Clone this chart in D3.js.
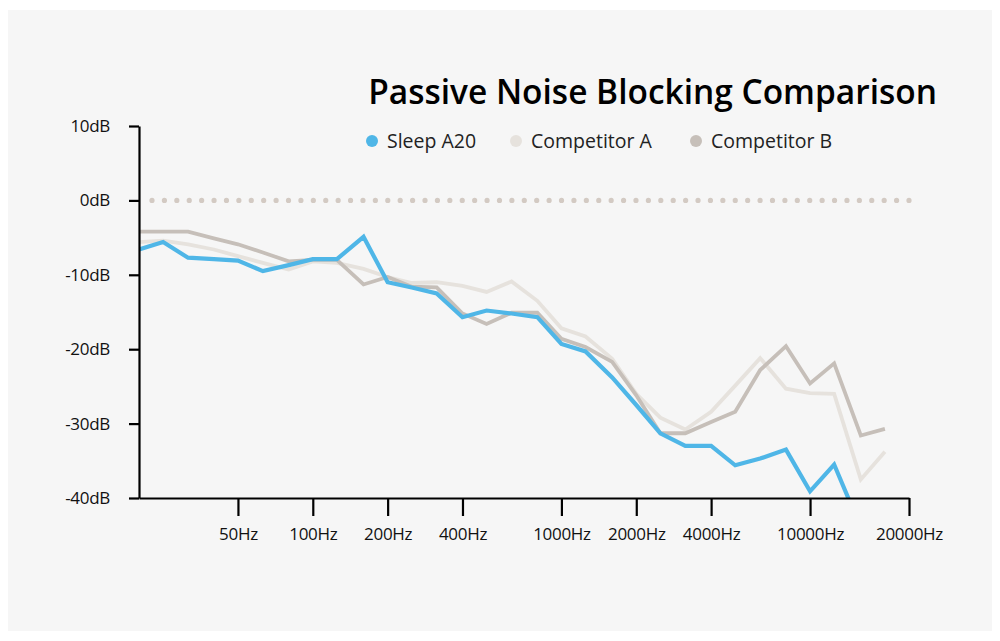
<!DOCTYPE html>
<html>
<head>
<meta charset="utf-8">
<script src="https://cdn.jsdelivr.net/npm/d3@7"></script>
<style>
  html, body { margin: 0; padding: 0; background: #ffffff; }
  svg { display: block; font-family: "Open Sans", Lato, sans-serif; }
</style>
</head>
<body>
<svg id="chart" width="1000" height="641"></svg>
<script>
// ---- Data ----
const frequencies = [20, 25, 31.5, 40, 50, 63, 80, 100, 125, 160, 200, 250, 315, 400, 500, 630, 800,
  1000, 1250, 1600, 2000, 2500, 3150, 4000, 5000, 6300, 8000, 10000, 12500, 16000, 20000];

const sleepA20 = [-6.6, -5.6, -7.7, -7.9, -8.1, -9.5, -8.7, -7.9, -7.9, -4.9, -11.0, -11.7, -12.5, -15.7,
  -14.8, -15.2, -15.7, -19.3, -20.3, -23.8, -27.5, -31.3, -33.0, -33.0, -35.6, -34.7, -33.5, -39.1, -35.5, -44.0, null];

const competitorA = [-5.6, -5.4, -5.9, -6.6, -7.5, -8.4, -9.3, -8.2, -8.4, -9.2, -10.3, -11.1, -11.0, -11.5,
  -12.3, -10.9, -13.5, -17.2, -18.3, -21.3, -26.0, -29.2, -30.8, -28.4, -24.9, -21.2, -25.3, -25.9, -26.0, -37.5, -33.8];

const competitorB = [-4.2, -4.2, -4.2, -5.1, -5.9, -7.0, -8.2, -8.0, -8.0, -11.3, -10.3, -11.6, -11.7, -15.2,
  -16.6, -15.1, -15.1, -18.6, -19.7, -21.7, -26.2, -31.3, -31.3, -29.8, -28.4, -22.8, -19.6, -24.6, -21.9, -31.6, -30.7];

const seriesNames = ["Sleep A20", "Competitor A", "Competitor B"];
const seriesColors = ["#4fb6e7", "#e6e2dd", "#c6bfb9"];

const xTickValues = [50, 100, 200, 400, 1000, 2000, 4000, 10000, 25000];
const xTickLabels = ["50Hz", "100Hz", "200Hz", "400Hz", "1000Hz", "2000Hz", "4000Hz", "10000Hz", "20000Hz"];
const yTickValues = [10, 0, -10, -20, -30, -40];
const yTickLabels = ["10dB", "0dB", "-10dB", "-20dB", "-30dB", "-40dB"];

const title = "Passive Noise Blocking Comparison";

// ---- Layout ----
const svg = d3.select("#chart");
const plot = { left: 139, right: 909, top: 126, bottom: 498 };

svg.append("rect").attr("x", 8).attr("y", 10).attr("width", 984).attr("height", 621).attr("fill", "#f6f6f6");

const x = d3.scaleLog().domain([20, 25000]).range([plot.left, plot.right]);
const y = d3.scaleLinear().domain([-40, 10]).range([plot.bottom, plot.top]);

// clip
svg.append("defs").append("clipPath").attr("id", "plotclip")
  .append("rect").attr("x", plot.left).attr("y", plot.top)
  .attr("width", plot.right - plot.left).attr("height", plot.bottom - plot.top);

// 0dB dotted line
const dotStart = plot.left + 13;
const dotGap = (plot.right - dotStart) / 61;
svg.append("line")
  .attr("x1", dotStart).attr("x2", plot.right + 1)
  .attr("y1", y(0)).attr("y2", y(0))
  .attr("stroke", "#d3cac3").attr("stroke-width", 5.2)
  .attr("stroke-linecap", "round").attr("stroke-dasharray", `0 ${dotGap}`);

// lines
const seriesData = [competitorA, competitorB, sleepA20];
const seriesIdx = [1, 2, 0];
const line = d3.line()
  .defined(d => d[1] !== null)
  .x(d => x(d[0])).y(d => y(d[1]));

const g = svg.append("g").attr("clip-path", "url(#plotclip)");
seriesData.forEach((vals, i) => {
  const pts = frequencies.map((f, j) => [f, vals[j]]);
  g.append("path")
    .datum(pts)
    .attr("d", line)
    .attr("fill", "none")
    .attr("stroke", seriesColors[seriesIdx[i]])
    .attr("stroke-width", seriesIdx[i] === 0 ? 4.2 : 3.8)
    .attr("stroke-linejoin", "miter");
});

// axes
const yAxis = d3.axisLeft(y).tickValues(yTickValues)
  .tickFormat((d, i) => yTickLabels[i]).tickSize(10).tickSizeOuter(0).tickPadding(19);
const gy = svg.append("g").attr("transform", `translate(${plot.left},0)`).call(yAxis);

const xAxis = d3.axisBottom(x).tickValues(xTickValues)
  .tickFormat((d, i) => xTickLabels[i]).tickSize(18).tickSizeOuter(0).tickPadding(12);
const gx = svg.append("g").attr("transform", `translate(0,${plot.bottom})`).call(xAxis);

[gx, gy].forEach(ax => {
  ax.select(".domain").attr("stroke", "#000").attr("stroke-width", 2.2);
  ax.selectAll(".tick line").attr("stroke", "#000").attr("stroke-width", 2.2);
  ax.selectAll(".tick text").attr("fill", "#111").style("font-size", "17px")
    .style("font-family", "'Open Sans', sans-serif").style("letter-spacing", "-0.3px");
});

// title
const t = svg.append("text")
  .attr("x", 937).attr("y", 104)
  .attr("text-anchor", "end")
  .attr("fill", "#000")
  .style("font-size", "30px").style("font-weight", "600")
  .text(title);
const tw = t.node().getComputedTextLength();
t.style("font-size", (30 * 569 / tw) + "px");

// legend
const legendX = [372, 516, 696];
const legend = svg.append("g");
seriesNames.forEach((name, i) => {
  legend.append("circle").attr("cx", legendX[i]).attr("cy", 141).attr("r", 6).attr("fill", seriesColors[i]);
  legend.append("text").attr("x", legendX[i] + 15).attr("y", 148)
    .attr("fill", "#222").style("font-size", "19.5px").text(name);
});
</script>
</body>
</html>
